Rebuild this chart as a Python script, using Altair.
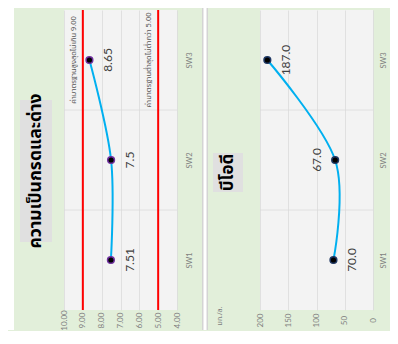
import altair as alt
import pandas as pd

# ---------------- data ----------------
stations = ["SW1", "SW2", "SW3"]
ph_values = [7.51, 7.5, 8.65]
ph_labels = ["7.51", "7.5", "8.65"]
bod_values = [70.0, 67.0, 187.0]
bod_labels = ["70.0", "67.0", "187.0"]
ph_ticks = [4, 5, 6, 7, 8, 9, 10]
bod_ticks = [0, 50, 100, 150, 200]
ph_limits = [9.0, 5.0]
ph_limit_texts = ["ค่ามาตรฐานสูงสุดไม่เกิน 9.00", "ค่ามาตรฐานต่ำสุดไม่ต่ำกว่า 5.00"]
ph_title = "ความเป็นกรดและด่าง"
bod_title = "บีโอดี"
bod_unit = "มก./ล."

# ---------------- style ----------------
GREEN = "#e2efda"
PLOT = "#f3f3f3"
GRID = "#dadada"
LINE = "#00b0f0"
THAI = "'Noto Sans Thai', 'Noto Sans', sans-serif"
NUM = "Lato"
H = 300
W1, W2 = 113, 113
BOTTOM = 320  # lowest drawn pixel (relative to plot top)
cat_order = stations[::-1]

ph_df = pd.DataFrame({"station": stations, "value": ph_values,
                      "label": ph_labels, "idx": list(range(len(stations)))})
bod_df = pd.DataFrame({"station": stations, "value": bod_values,
                       "label": bod_labels, "idx": list(range(len(stations)))})
lim_df = pd.DataFrame({"value": ph_limits, "text": ph_limit_texts,
                       "station": [stations[-1]] * len(ph_limits)})
bound_df = pd.DataFrame({"station": stations[:2][::-1]})
one = pd.DataFrame({"k": [0]})

yscale = alt.Scale(type="point", padding=0.5, domain=cat_order)


def y_axis(pad):
    return alt.Axis(orient="right", labelAngle=270, labelAlign="center",
                    labelBaseline="middle", labelPadding=pad, ticks=False,
                    domain=False, grid=False, title=None, labelFontSize=7.5,
                    labelColor="#7f7f7f", labelFont=NUM)


YA1 = y_axis(12)
YA2 = y_axis(10)


def x_axis(vals, fmt):
    return alt.Axis(values=vals, format=fmt, labelAngle=270, labelAlign="center",
                    labelBaseline="middle", labelPadding=10, ticks=False, domain=False,
                    grid=True, gridColor=GRID, gridWidth=0.8, title=None,
                    labelFontSize=8, labelColor="#7f7f7f", labelFont=NUM)


def deco_rect(x1, x2, y1, y2, color):
    return alt.Chart(one).mark_rect(color=color).encode(
        x=alt.value(x1), x2=alt.value(x2), y=alt.value(y1), y2=alt.value(y2))


# ---------------- pH panel ----------------
xs1 = alt.Scale(domain=[4, 10], reverse=True, nice=False, zero=False)
AX1 = x_axis(ph_ticks, ".2f")


def x1():
    return alt.X("value:Q", scale=xs1, axis=AX1)


def y1():
    return alt.Y("station:N", scale=yscale, axis=YA1)


p1_bounds = alt.Chart(bound_df).mark_rule(color=GRID, strokeWidth=0.8, yOffset=-50).encode(
    y=y1())
p1_limits = alt.Chart(lim_df).mark_rule(color="#ff0000", strokeWidth=2).encode(x=x1())
p1_limtext = alt.Chart(lim_df).mark_text(angle=270, dy=-9, fontSize=7.5, font=THAI,
                                         color="#595959").encode(
    x=x1(), y=y1(), text="text:N")
p1_line = alt.Chart(ph_df).mark_line(interpolate="cardinal", color=LINE, strokeWidth=2).encode(
    x=x1(), y=y1(), order="idx:Q")
p1_pts = alt.Chart(ph_df).mark_circle(size=45, color="#000000", opacity=1,
                                      stroke="#7030a0", strokeWidth=1.5).encode(
    x=x1(), y=y1())
p1_lab = alt.Chart(ph_df).mark_text(angle=270, dy=19, fontSize=12, font=NUM,
                                    color="#404040").encode(
    x=x1(), y=y1(), text="label:N")
p1_titlebox = deco_rect(-44, -12, 90, 232, "#e0e0e0")
p1_title = alt.Chart(one).mark_text(text=ph_title, angle=270, fontSize=17.5, fontWeight="bold",
                                    font=THAI, color="#000000").encode(
    x=alt.value(-28), y=alt.value(161))
p1_white = deco_rect(-56, -50, -2, BOTTOM, "#ffffff")
p1_sep_g = deco_rect(138, 144, -2, BOTTOM, "#d4d4d4")
p1_sep_w = deco_rect(139.5, 142.5, -2, BOTTOM, "#ffffff")

panel1 = alt.layer(p1_white, p1_sep_g, p1_sep_w, p1_bounds, p1_limits,
                   p1_limtext, p1_line, p1_pts, p1_lab, p1_titlebox, p1_title
                   ).properties(width=W1, height=H)

# ---------------- BOD panel ----------------
xs2 = alt.Scale(domain=[0, 200], reverse=True, nice=False)
AX2 = x_axis(bod_ticks, "d")


def x2():
    return alt.X("value:Q", scale=xs2, axis=AX2)


def y2():
    return alt.Y("station:N", scale=yscale, axis=YA2)


p2_bounds = alt.Chart(bound_df).mark_rule(color=GRID, strokeWidth=0.8, yOffset=-50).encode(
    y=y2())
p2_line = alt.Chart(bod_df).mark_line(interpolate="cardinal", color=LINE, strokeWidth=2).encode(
    x=x2(), y=y2(), order="idx:Q")
p2_pts = alt.Chart(bod_df).mark_circle(size=45, color="#000000", opacity=1,
                                       stroke="#1f3864", strokeWidth=1.5).encode(
    x=x2(), y=y2())
p2_lab_r = alt.Chart(bod_df).transform_filter(alt.datum.station != "SW2").mark_text(
    angle=270, dy=19, fontSize=12, font=NUM, color="#404040").encode(
    x=x2(), y=y2(), text="label:N")
p2_lab_l = alt.Chart(bod_df).transform_filter(alt.datum.station == "SW2").mark_text(
    angle=270, dy=-18, fontSize=12, font=NUM, color="#404040").encode(
    x=x2(), y=y2(), text="label:N")
p2_titlebox = deco_rect(-47, -17, 143, 182, "#e0e0e0")
p2_title = alt.Chart(one).mark_text(text=bod_title, angle=270, fontSize=17, fontWeight="bold",
                                    font=THAI, color="#000000").encode(
    x=alt.value(-32), y=alt.value(162.5))
p2_unit = alt.Chart(one).mark_text(text=bod_unit, angle=270, fontSize=7, font=THAI,
                                   color="#7f7f7f").encode(
    x=alt.value(-40), y=alt.value(306))
p2_edge = deco_rect(126, 130, 0, 1, GREEN)

panel2 = alt.layer(p2_edge, p2_bounds, p2_line, p2_pts, p2_lab_r, p2_lab_l,
                   p2_titlebox, p2_title, p2_unit).properties(width=W2, height=H)

chart = alt.hconcat(panel1, panel2, spacing=83, bounds="flush").properties(
    padding=0, background=GREEN
).configure_view(fill=PLOT, stroke=None)

chart.save("out.html", embed_options={"renderer": "svg", "actions": False})
